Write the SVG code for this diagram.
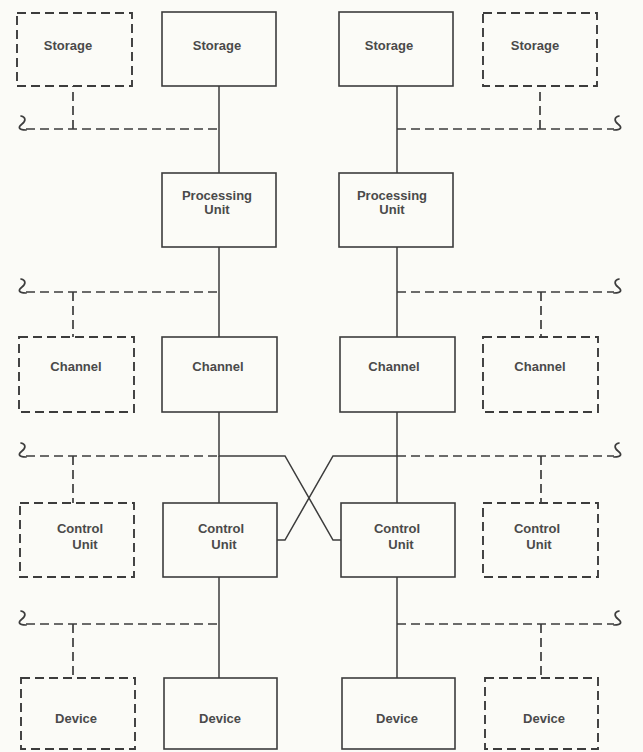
<svg xmlns="http://www.w3.org/2000/svg" width="643" height="752" viewBox="0 0 643 752">
  <style>
    .bg { fill: #fbfbf7; }
    .solid { fill: none; stroke: #3c3c3c; stroke-width: 1.6; }
    .dash { fill: none; stroke: #3c3c3c; stroke-width: 1.9; stroke-dasharray: 9 5; }
    .link { fill: none; stroke: #3c3c3c; stroke-width: 1.5; }
    .dlink { fill: none; stroke: #3c3c3c; stroke-width: 1.7; stroke-dasharray: 9 5; }
    .wig { fill: none; stroke: #3c3c3c; stroke-width: 1.7; stroke-linecap: round; }
    text { font-family: "Liberation Sans", Arial, sans-serif; font-size: 13px; font-weight: bold; fill: #4a4a4a; text-anchor: middle; }
  </style>
  <defs>
    <!-- break mark at the open end of a dashed bus -->
    <path id="brk" class="wig" d="M 1,-11 C 6,-10 6,-6 2,-3 C -2,0 -2,3 6,3"/>
  </defs>

  <rect class="bg" x="0" y="0" width="643" height="752"/>

  <!-- connectors -->
  <g id="connectors">
    <!-- main solid paths, left and right -->
    <path class="link" d="M219,86 V173 M219,247 V337 M219,412 V456 H285 L333,540 H341 M219,577 V678"/>
    <path class="link" d="M397,86 V173 M397,247 V337 M397,412 V503 M277,540 H285 L333,456 H397 M397,577 V678"/>
    <path class="link" d="M219,456 V503"/>

    <!-- dashed buses, left -->
    <path class="dlink" d="M26,129 H219 M73,129 V86"/>
    <path class="dlink" d="M26,292 H219 M73,292 V337"/>
    <path class="dlink" d="M26,456 H219 M73,456 V503"/>
    <path class="dlink" d="M26,624 H219 M73,624 V678"/>
    <!-- dashed buses, right -->
    <path class="dlink" d="M397,129 H614 M540,129 V86"/>
    <path class="dlink" d="M397,292 H614 M541,292 V337"/>
    <path class="dlink" d="M397,456 H614 M541,456 V503"/>
    <path class="dlink" d="M397,624 H614 M541,624 V678"/>

    <!-- break marks -->
    <use href="#brk" transform="translate(20,127)"/>
    <use href="#brk" transform="translate(20,290)"/>
    <use href="#brk" transform="translate(20,454)"/>
    <use href="#brk" transform="translate(20,622)"/>
    <use href="#brk" transform="translate(620,127) scale(-1,1)"/>
    <use href="#brk" transform="translate(620,290) scale(-1,1)"/>
    <use href="#brk" transform="translate(620,454) scale(-1,1)"/>
    <use href="#brk" transform="translate(620,622) scale(-1,1)"/>
  </g>

  <!-- storage row -->
  <g id="storage-l2"><rect class="dash" x="17" y="13" width="115" height="73"/><text x="68" y="50">Storage</text></g>
  <g id="storage-l1"><rect class="solid" x="162" y="12" width="114" height="74"/><text x="217" y="50">Storage</text></g>
  <g id="storage-r1"><rect class="solid" x="339" y="12" width="114" height="74"/><text x="389" y="50">Storage</text></g>
  <g id="storage-r2"><rect class="dash" x="483" y="13" width="114" height="73"/><text x="535" y="50">Storage</text></g>

  <!-- processing units -->
  <g id="cpu-l"><rect class="solid" x="162" y="173" width="114" height="74"/><text x="217" y="200">Processing</text><text x="217" y="214">Unit</text></g>
  <g id="cpu-r"><rect class="solid" x="339" y="173" width="114" height="74"/><text x="392" y="200">Processing</text><text x="392" y="214">Unit</text></g>

  <!-- channels -->
  <g id="channel-l2"><rect class="dash" x="19" y="337" width="115" height="75"/><text x="76" y="371">Channel</text></g>
  <g id="channel-l1"><rect class="solid" x="162" y="337" width="115" height="75"/><text x="218" y="371">Channel</text></g>
  <g id="channel-r1"><rect class="solid" x="340" y="337" width="115" height="75"/><text x="394" y="371">Channel</text></g>
  <g id="channel-r2"><rect class="dash" x="483" y="337" width="115" height="75"/><text x="540" y="371">Channel</text></g>

  <!-- control units -->
  <g id="control-l2"><rect class="dash" x="20" y="503" width="114" height="74"/><text x="80" y="533">Control</text><text x="85" y="549">Unit</text></g>
  <g id="control-l1"><rect class="solid" x="163" y="503" width="114" height="74"/><text x="221" y="533">Control</text><text x="224" y="549">Unit</text></g>
  <g id="control-r1"><rect class="solid" x="341" y="503" width="114" height="74"/><text x="397" y="533">Control</text><text x="401" y="549">Unit</text></g>
  <g id="control-r2"><rect class="dash" x="483" y="503" width="115" height="74"/><text x="537" y="533">Control</text><text x="539" y="549">Unit</text></g>

  <!-- devices -->
  <g id="device-l2"><rect class="dash" x="21" y="678" width="114" height="71"/><text x="76" y="723">Device</text></g>
  <g id="device-l1"><rect class="solid" x="164" y="678" width="113" height="71"/><text x="220" y="723">Device</text></g>
  <g id="device-r1"><rect class="solid" x="342" y="678" width="113" height="71"/><text x="397" y="723">Device</text></g>
  <g id="device-r2"><rect class="dash" x="485" y="678" width="113" height="71"/><text x="544" y="723">Device</text></g>
</svg>
